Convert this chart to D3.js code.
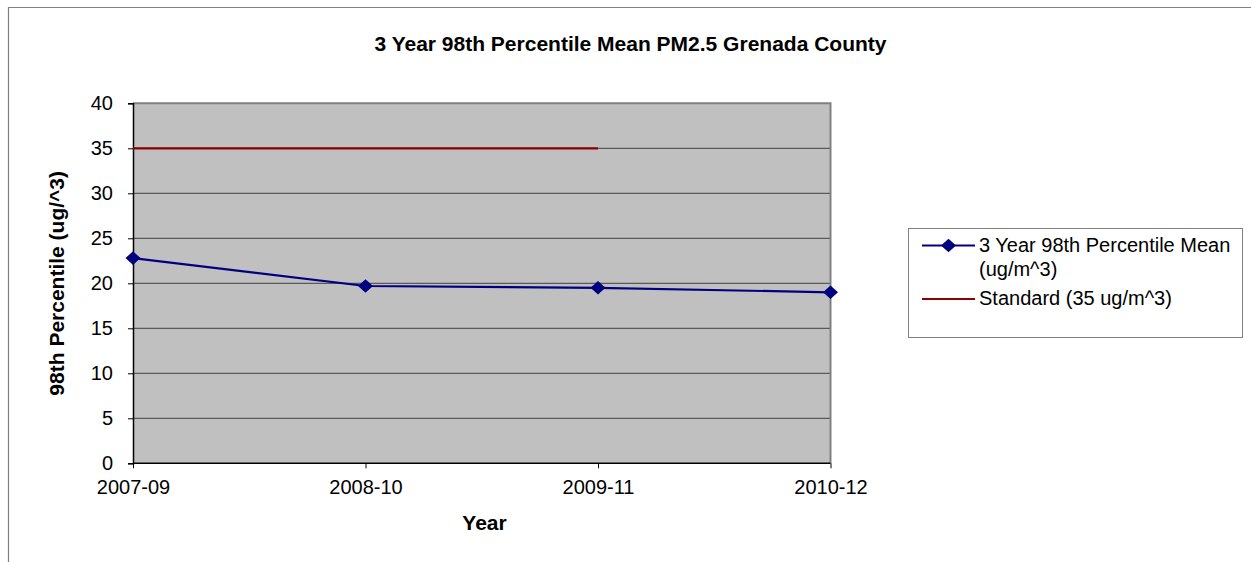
<!DOCTYPE html>
<html>
<head>
<meta charset="utf-8">
<script src="https://cdn.jsdelivr.net/npm/d3@7"></script>
<style>
  html, body { margin: 0; padding: 0; background: #fff; }
  svg { display: block; }
  text { font-family: "Liberation Sans", Arial, sans-serif; fill: #000; }
</style>
</head>
<body>
<svg id="chart" width="1251" height="562"></svg>
<script>
const categories = ["2007-09", "2008-10", "2009-11", "2010-12"];
const meanValues = [22.8, 19.7, 19.5, 19.0];
const standardValues = [35, 35, 35, null];
const yTicks = [0, 5, 10, 15, 20, 25, 30, 35, 40];
const seriesNames = ["3 Year 98th Percentile Mean (ug/m^3)", "Standard (35 ug/m^3)"];
const titleText = "3 Year 98th Percentile Mean PM2.5 Grenada County";
const xTitle = "Year";
const yTitle = "98th Percentile (ug/^3)";

const FONT = "'Liberation Sans', Arial, sans-serif";
const svg = d3.select("#chart");
const W = 1251, H = 562;
const plot = { left: 133, top: 103.3, right: 830.5, bottom: 463.3 };

// outer chart border (only left and top visible)
svg.append("path")
  .attr("d", `M8.5,${H} L8.5,7.5 L${W},7.5`)
  .attr("fill", "none").attr("stroke", "#808080").attr("stroke-width", 1.2);

const x = d3.scalePoint().domain(categories).range([plot.left, plot.right]);
const y = d3.scaleLinear().domain([0, 40]).range([plot.bottom, plot.top]);

// plot background
svg.append("rect")
  .attr("x", plot.left).attr("y", plot.top)
  .attr("width", plot.right - plot.left).attr("height", plot.bottom - plot.top)
  .attr("fill", "#c0c0c0");

// gridlines
svg.append("g").selectAll("line").data(yTicks.filter(d => d > 0 && d < 40)).join("line")
  .attr("x1", plot.left).attr("x2", plot.right)
  .attr("y1", d => y(d)).attr("y2", d => y(d))
  .attr("stroke", "#404040").attr("stroke-width", 1);

// plot border top/right (grey)
svg.append("path")
  .attr("d", `M${plot.left},${plot.top} L${plot.right},${plot.top} L${plot.right},${plot.bottom}`)
  .attr("fill", "none").attr("stroke", "#808080").attr("stroke-width", 2);

// y axis
const yAxis = d3.axisLeft(y).tickValues(yTicks).tickSize(5).tickPadding(15).tickFormat(d3.format("d"));
const gy = svg.append("g").attr("transform", `translate(${plot.left},0)`).call(yAxis);
gy.select(".domain").attr("stroke", "#000").attr("stroke-width", 1.5);
gy.selectAll(".tick line").attr("stroke", "#000");
gy.selectAll(".tick text").attr("font-size", 20).style("font-family", FONT).attr("fill", "#000");

// x axis
const xAxis = d3.axisBottom(x).tickSize(5).tickPadding(12);
const gx = svg.append("g").attr("transform", `translate(0,${plot.bottom})`).call(xAxis);
gx.select(".domain").attr("stroke", "#000").attr("stroke-width", 1.5).attr("d", `M${plot.left},0H${plot.right}`);
gx.selectAll(".tick line").attr("stroke", "#000");
gx.selectAll(".tick text").attr("font-size", 20).style("font-family", FONT).attr("fill", "#000");

// diamond marker symbol (square rotated 45 deg)
const diamondType = {
  draw(ctx, size) {
    const w = 7.5, h = 6.8;
    ctx.moveTo(0, -h); ctx.lineTo(w, 0); ctx.lineTo(0, h); ctx.lineTo(-w, 0); ctx.closePath();
  }
};
const diamond = d3.symbol().type(diamondType);

// standard line
const stdData = categories.map((c, i) => ({ c, v: standardValues[i] }));
svg.append("path")
  .datum(stdData)
  .attr("fill", "none").attr("stroke", "#8b0000").attr("stroke-width", 2.2)
  .attr("d", d3.line().defined(d => d.v != null).x(d => x(d.c)).y(d => y(d.v)));

// mean line
const meanData = categories.map((c, i) => ({ c, v: meanValues[i] }));
svg.append("path")
  .datum(meanData)
  .attr("fill", "none").attr("stroke", "#000080").attr("stroke-width", 2.2)
  .attr("d", d3.line().x(d => x(d.c)).y(d => y(d.v)));

svg.append("g").selectAll("path").data(meanData).join("path")
  .attr("transform", d => `translate(${x(d.c)},${y(d.v)})`)
  .attr("d", diamond)
  .attr("fill", "#000080");

// title
svg.append("text")
  .attr("x", 630.5).attr("y", 51)
  .attr("text-anchor", "middle").attr("font-size", 21).attr("font-weight", "bold")
  .text(titleText);

// axis titles
svg.append("text")
  .attr("x", 484.5).attr("y", 530)
  .attr("text-anchor", "middle").attr("font-size", 21).attr("font-weight", "bold")
  .text(xTitle);

svg.append("text")
  .attr("transform", `translate(64,${(plot.top + plot.bottom) / 2}) rotate(-90)`)
  .attr("text-anchor", "middle").attr("font-size", 21).attr("font-weight", "bold")
  .text(yTitle);

// legend
const lg = svg.append("g");
lg.append("rect")
  .attr("x", 908.5).attr("y", 228.5).attr("width", 334).attr("height", 109)
  .attr("fill", "#fff").attr("stroke", "#808080").attr("stroke-width", 1);

lg.append("line").attr("x1", 922).attr("x2", 975).attr("y1", 245.5).attr("y2", 245.5)
  .attr("stroke", "#000080").attr("stroke-width", 2.2);
lg.append("path").attr("transform", "translate(948.5,245.5)").attr("d", diamond).attr("fill", "#000080");
lg.append("text").attr("x", 979).attr("y", 252).attr("font-size", 20).text("3 Year 98th Percentile Mean");
lg.append("text").attr("x", 979).attr("y", 276).attr("font-size", 20).text("(ug/m^3)");

lg.append("line").attr("x1", 922).attr("x2", 975).attr("y1", 299).attr("y2", 299)
  .attr("stroke", "#8b0000").attr("stroke-width", 2.2);
lg.append("text").attr("x", 979).attr("y", 305).attr("font-size", 20).text(seriesNames[1]);
</script>
</body>
</html>
